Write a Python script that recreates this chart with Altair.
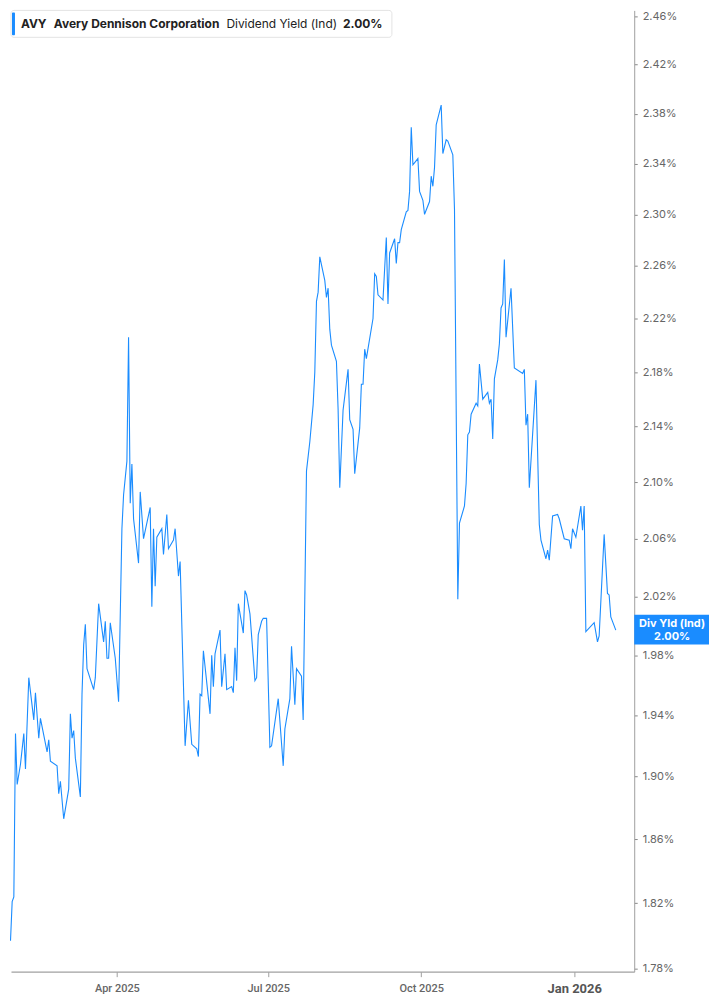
import altair as alt
import pandas as pd

# ---------------- data ----------------
dates = [
    "2025-01-27", "2025-01-28", "2025-01-29", "2025-01-30", "2025-01-31",
    "2025-02-02", "2025-02-04", "2025-02-05", "2025-02-07", "2025-02-10",
    "2025-02-11", "2025-02-13", "2025-02-14", "2025-02-18", "2025-02-19",
    "2025-02-20", "2025-02-24", "2025-02-25", "2025-02-26", "2025-02-28",
    "2025-03-03", "2025-03-04", "2025-03-05", "2025-03-06", "2025-03-07",
    "2025-03-10", "2025-03-11", "2025-03-12", "2025-03-13", "2025-03-14",
    "2025-03-18", "2025-03-19", "2025-03-21", "2025-03-24", "2025-03-25",
    "2025-03-26", "2025-03-27", "2025-03-28", "2025-03-31", "2025-04-02",
    "2025-04-04", "2025-04-05", "2025-04-07", "2025-04-08", "2025-04-09",
    "2025-04-10", "2025-04-11", "2025-04-14", "2025-04-15", "2025-04-17",
    "2025-04-21", "2025-04-22", "2025-04-23", "2025-04-24", "2025-04-25",
    "2025-04-28", "2025-04-29", "2025-05-01", "2025-05-02", "2025-05-05",
    "2025-05-06", "2025-05-08", "2025-05-09", "2025-05-12", "2025-05-14",
    "2025-05-16", "2025-05-19", "2025-05-20", "2025-05-21", "2025-05-22",
    "2025-05-23", "2025-05-27", "2025-05-28", "2025-05-29", "2025-05-30",
    "2025-06-02", "2025-06-03", "2025-06-05", "2025-06-06", "2025-06-09",
    "2025-06-10", "2025-06-11", "2025-06-12", "2025-06-13", "2025-06-16",
    "2025-06-17", "2025-06-18", "2025-06-20", "2025-06-23", "2025-06-24",
    "2025-06-25", "2025-06-27", "2025-06-28", "2025-06-30", "2025-07-02",
    "2025-07-03", "2025-07-07", "2025-07-10", "2025-07-11", "2025-07-14",
    "2025-07-15", "2025-07-17", "2025-07-18", "2025-07-21", "2025-07-22",
    "2025-07-24", "2025-07-26", "2025-07-28", "2025-07-29", "2025-07-30",
    "2025-07-31", "2025-08-01", "2025-08-04", "2025-08-05", "2025-08-06",
    "2025-08-07", "2025-08-08", "2025-08-11", "2025-08-12", "2025-08-13",
    "2025-08-15", "2025-08-18", "2025-08-19", "2025-08-21", "2025-08-22",
    "2025-08-25", "2025-08-26", "2025-08-27", "2025-08-28", "2025-08-29",
    "2025-09-02", "2025-09-03", "2025-09-04", "2025-09-05", "2025-09-08",
    "2025-09-10", "2025-09-11", "2025-09-12", "2025-09-15", "2025-09-16",
    "2025-09-17", "2025-09-18", "2025-09-19", "2025-09-22", "2025-09-23",
    "2025-09-24", "2025-09-25", "2025-09-26", "2025-09-29", "2025-09-30",
    "2025-10-02", "2025-10-03", "2025-10-06", "2025-10-07", "2025-10-08",
    "2025-10-09", "2025-10-10", "2025-10-13", "2025-10-14", "2025-10-16",
    "2025-10-17", "2025-10-20", "2025-10-21", "2025-10-23", "2025-10-24",
    "2025-10-27", "2025-10-28", "2025-10-29", "2025-10-30", "2025-10-31",
    "2025-11-03", "2025-11-04", "2025-11-05", "2025-11-07", "2025-11-10",
    "2025-11-11", "2025-11-12", "2025-11-13", "2025-11-14", "2025-11-16",
    "2025-11-17", "2025-11-18", "2025-11-19", "2025-11-20", "2025-11-21",
    "2025-11-24", "2025-11-26", "2025-12-01", "2025-12-02", "2025-12-03",
    "2025-12-04", "2025-12-05", "2025-12-09", "2025-12-11", "2025-12-12",
    "2025-12-15", "2025-12-16", "2025-12-17", "2025-12-19", "2025-12-22",
    "2025-12-23", "2025-12-26", "2025-12-29", "2025-12-30", "2025-12-31",
    "2026-01-02", "2026-01-05", "2026-01-06", "2026-01-07", "2026-01-08",
    "2026-01-13", "2026-01-15", "2026-01-16", "2026-01-19", "2026-01-21",
    "2026-01-22", "2026-01-23", "2026-01-26",
]

yields = [
    1.797, 1.821, 1.824, 1.928, 1.895,
    1.908, 1.928, 1.905, 1.965, 1.937,
    1.955, 1.925, 1.938, 1.916, 1.924,
    1.910, 1.907, 1.889, 1.897, 1.873,
    1.892, 1.941, 1.925, 1.930, 1.912,
    1.887, 1.954, 1.987, 2.001, 1.971,
    1.957, 1.965, 2.015, 1.989, 2.003,
    1.978, 1.978, 2.002, 1.978, 1.949,
    2.067, 2.091, 2.115, 2.206, 2.085,
    2.113, 2.074, 2.043, 2.093, 2.060,
    2.082, 2.013, 2.067, 2.027, 2.061,
    2.067, 2.049, 2.077, 2.053, 2.059,
    2.067, 2.034, 2.044, 1.920, 1.950,
    1.921, 1.918, 1.913, 1.954, 1.953,
    1.983, 1.941, 1.980, 1.959, 1.981,
    1.997, 1.959, 1.981, 1.957, 1.959,
    1.955, 1.985, 1.963, 2.015, 1.995,
    2.024, 2.021, 2.008, 1.963, 1.965,
    1.994, 2.003, 2.005, 2.005, 1.919,
    1.920, 1.951, 1.907, 1.931, 1.951,
    1.986, 1.947, 1.971, 1.966, 1.937,
    2.108, 2.129, 2.156, 2.180, 2.233,
    2.240, 2.267, 2.249, 2.236, 2.243,
    2.212, 2.200, 2.188, 2.153, 2.096,
    2.152, 2.182, 2.145, 2.138, 2.106,
    2.139, 2.171, 2.171, 2.197, 2.190,
    2.220, 2.254, 2.252, 2.238, 2.234,
    2.282, 2.231, 2.270, 2.281, 2.262,
    2.278, 2.278, 2.288, 2.302, 2.303,
    2.318, 2.369, 2.339, 2.344, 2.318,
    2.311, 2.300, 2.310, 2.330, 2.322,
    2.337, 2.371, 2.387, 2.348, 2.359,
    2.358, 2.347, 2.304, 2.018, 2.071,
    2.083, 2.099, 2.134, 2.136, 2.149,
    2.157, 2.155, 2.186, 2.160, 2.165,
    2.157, 2.160, 2.131, 2.175, 2.189,
    2.201, 2.228, 2.231, 2.265, 2.206,
    2.243, 2.183, 2.179, 2.182, 2.141,
    2.149, 2.096, 2.174, 2.070, 2.059,
    2.046, 2.052, 2.045, 2.076, 2.077,
    2.074, 2.060, 2.059, 2.053, 2.067,
    2.061, 2.083, 2.066, 2.083, 1.996,
    2.002, 1.989, 1.993, 2.063, 2.022,
    2.021, 2.006, 1.997,
]

y_ticks = [1.78, 1.82, 1.86, 1.90, 1.94, 1.98, 2.02, 2.06, 2.10, 2.14,
           2.18, 2.22, 2.26, 2.30, 2.34, 2.38, 2.42, 2.46]
x_ticks = [(2025, 4), (2025, 7), (2025, 10), (2026, 1)]

ticker = "AVY"
company = "Avery Dennison Corporation"
metric = "Dividend Yield (Ind)"
last_value_text = "2.00%"
tag_line1 = "Div Yld (Ind)"

# ---------------- chart ----------------
df = pd.DataFrame({"date": dates, "yield": yields})
one = pd.DataFrame({"k": [0]})

W, H = 625, 964
BLUE = "#1a8cff"
AXIS_GREY = "#a0a0a0"
LABEL_GREY = "#666666"

x_scale = alt.Scale(
    type="utc",
    domain=[alt.DateTime(year=2025, month=1, date=27, hours=7, utc=True),
            alt.DateTime(year=2026, month=2, date=6, hours=2, utc=True)],
)
y_scale = alt.Scale(type="log", domain=[1.7782, 2.465], nice=False, zero=False)

x_axis = alt.Axis(
    values=[alt.DateTime(year=y, month=m, date=1, utc=True) for y, m in x_ticks],
    labelExpr="utcFormat(datum.value, '%b %Y')",
    grid=False,
    domainColor=AXIS_GREY,
    domainWidth=1.3,
    tickColor=AXIS_GREY,
    tickSize=5,
    labelPadding=6,
    labelFont="Roboto",
    labelFontSize={"condition": {"test": "utcmonth(datum.value) == 0", "value": 13}, "value": 11},
    labelFontWeight={"condition": {"test": "utcmonth(datum.value) == 0", "value": "bold"}, "value": 500},
    labelColor={"condition": {"test": "utcmonth(datum.value) == 0", "value": "#555555"}, "value": LABEL_GREY},
    title=None,
)

y_axis = alt.Axis(
    orient="right",
    values=y_ticks,
    labelExpr="format(datum.value, '.2f') + '%'",
    grid=False,
    domainColor=AXIS_GREY,
    tickColor="#888888",
    tickSize=3,
    labelPadding=5,
    labelFont="Inter",
    labelFontSize=11,
    labelColor=LABEL_GREY,
    title=None,
)

line = alt.Chart(df).mark_line(color=BLUE, strokeWidth=1.1).encode(
    x=alt.X("date:T", scale=x_scale, axis=x_axis),
    y=alt.Y("yield:Q", scale=y_scale, axis=y_axis),
)

# legend box (top-left)
legend_box = alt.Chart(one).mark_rect(
    fill="white", stroke="#e3e3e3", strokeWidth=1, cornerRadius=3
).encode(x=alt.value(0), x2=alt.value(382), y=alt.value(0), y2=alt.value(27))

legend_bar = alt.Chart(one).mark_rect(fill=BLUE, cornerRadius=1).encode(
    x=alt.value(1), x2=alt.value(4), y=alt.value(2), y2=alt.value(25)
)


def legend_text(txt, xpos, weight):
    return alt.Chart(one).mark_text(
        align="left", baseline="middle", font="Inter", fontSize=12,
        fontWeight=weight, color="#222222",
    ).encode(x=alt.value(xpos), y=alt.value(14), text=alt.value(txt))


t1 = legend_text(ticker, 10, "bold")
t2 = legend_text(company, 43, "bold")
t3 = legend_text(metric, 216, "normal")
t4 = legend_text(last_value_text, 333, "bold")

# last value tag on the right axis
tag = alt.Chart(one).mark_rect(fill=BLUE).encode(
    x=alt.value(W), x2=alt.value(700), y=alt.value(606), y2=alt.value(636)
)
tag_t1 = alt.Chart(one).mark_text(
    align="center", baseline="middle", font="Inter", fontSize=11,
    fontWeight="bold", color="white",
).encode(x=alt.value(663), y=alt.value(615), text=alt.value(tag_line1))
tag_t2 = alt.Chart(one).mark_text(
    align="center", baseline="middle", font="Inter", fontSize=11,
    fontWeight="bold", color="white",
).encode(x=alt.value(663), y=alt.value(628), text=alt.value(last_value_text))

chart = alt.layer(
    line, legend_box, legend_bar, t1, t2, t3, t4, tag, tag_t1, tag_t2
).properties(
    width=W, height=H, padding=0, background="white"
).configure_view(stroke=None)

chart.save("out.html", embed_options={"renderer": "svg", "actions": False})
